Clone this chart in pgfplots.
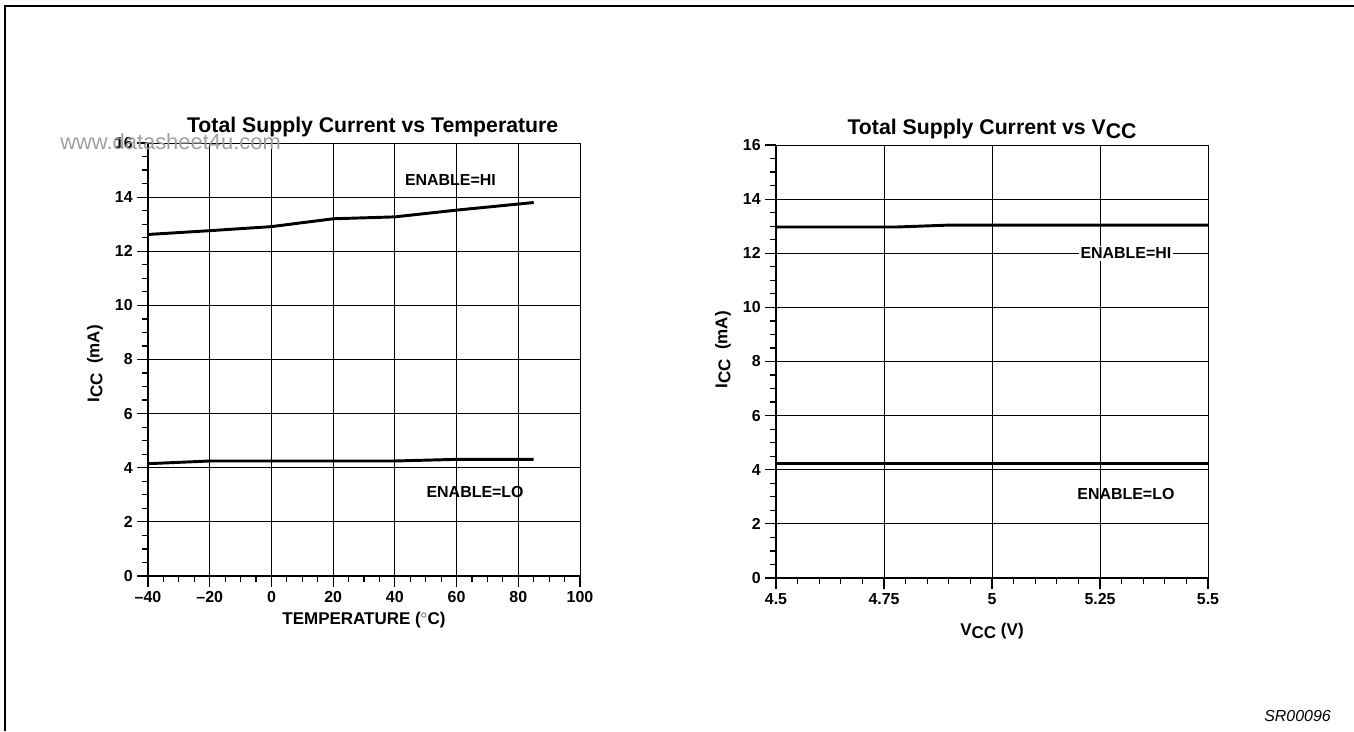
\documentclass[border=0pt]{standalone}
\usepackage{pgfplots}
\pgfplotsset{compat=1.18}
\usepackage{fontspec}
\setmainfont{Liberation Sans}

% common look of both panels
\pgfplotsset{
  icc/.style={
    scale only axis,
    width=324bp, height=324.75bp,
    axis x line*=bottom, axis y line*=left,
    axis line style={line width=1.7bp},
    ymin=0, ymax=16, ytick={0,2,...,16},
    minor y tick num=3,
    tick align=outside,
    major tick length=8bp, minor tick length=4.5bp,
    every tick/.style={black, line width=0.9bp},
    grid=major,
    major grid style={black, line width=0.65bp},
    tick label style={font=\bfseries\fontsize{12}{14}\selectfont},
    /pgf/number format/assume math mode=true,
    label style={font=\bfseries\fontsize{12.8}{14}\selectfont},
    every axis title shift=0pt,
    title style={font=\bfseries\fontsize{16}{18}\selectfont},
    ylabel={I\raisebox{-0.35ex}{CC}\ \ (mA)},
    clip=false,
  },
  curve/.style={black, line width=2.2bp, no marks},
}
\tikzset{note/.style={font=\bfseries\fontsize{12}{14}\selectfont}}

\begin{document}
\begin{tikzpicture}
\begin{scope}[x=0.75bp, y=0.75bp]
  \path[use as bounding box] (0,0) rectangle (1354,731);
  \draw[line width=1.1bp] (5,0) -- (5,725) -- (1354,725);
\end{scope}

% left panel: temperature
\begin{axis}[icc,
  at={(111bp,116.25bp)}, anchor=south west,
  xmin=-40, xmax=100,
  xtick={-40,-20,...,100},
  xticklabels={--40,--20,0,20,40,60,80,100},
  minor x tick num=3,
  title={Total Supply Current vs Temperature},
  title style={at={(axis description cs:0.52,1.025)}, anchor=base},
  xlabel={TEMPERATURE ($^\circ$C)},
  xlabel style={at={(axis description cs:0.5,-0.102)}, anchor=center},
  ylabel style={at={(axis description cs:-0.123,0.49)}, anchor=center},
]
\addplot[curve] coordinates {
  (-40,12.62) (-20,12.76) (0,12.91) (20,13.2) (40,13.27) (60,13.52) (85,13.8)
};
\addplot[curve] coordinates {
  (-40,4.15) (-20,4.25) (0,4.25) (20,4.25) (40,4.25) (60,4.31) (85,4.31)
};
\node[note] at (axis cs:58,14.63) {ENABLE=HI};
\node[note] at (axis cs:66,3.1) {ENABLE=LO};
\end{axis}

% right panel: supply voltage
\begin{axis}[icc,
  at={(582bp,114.75bp)}, anchor=south west,
  xmin=4.5, xmax=5.5,
  xtick={4.5,4.75,5,5.25,5.5},
  xticklabels={4.5,4.75,5,5.25,5.5},
  minor x tick num=4,
  title={Total Supply Current vs V\raisebox{-0.4ex}{CC}},
  title style={at={(axis description cs:0.5,1.025)}, anchor=base},
  xlabel={V\raisebox{-0.4ex}{CC} (V)},
  xlabel style={at={(axis description cs:0.5,-0.122)}, anchor=center},
  ylabel style={at={(axis description cs:-0.123,0.527)}, anchor=center},
]
\addplot[curve] coordinates {
  (4.5,12.97) (4.78,12.97) (4.9,13.04) (5.25,13.04) (5.5,13.04)
};
\addplot[curve] coordinates {
  (4.5,4.22) (4.75,4.22) (5,4.22) (5.25,4.22) (5.5,4.22)
};
\node[note, fill=white, inner sep=1.5bp] at (axis cs:5.31,12.0) {ENABLE=HI};
\node[note] at (axis cs:5.31,3.1) {ENABLE=LO};
\end{axis}

\begin{scope}[x=0.75bp, y=0.75bp]
  \node[anchor=base west, inner sep=0pt, text=gray!75, font=\fontsize{16.5}{18}\selectfont]
    at (60,581) {www.datasheet4u.com};
  \node[anchor=base east, inner sep=0pt, font=\itshape\fontsize{12}{14}\selectfont]
    at (1331,10) {SR00096};
\end{scope}
\end{tikzpicture}
\end{document}
